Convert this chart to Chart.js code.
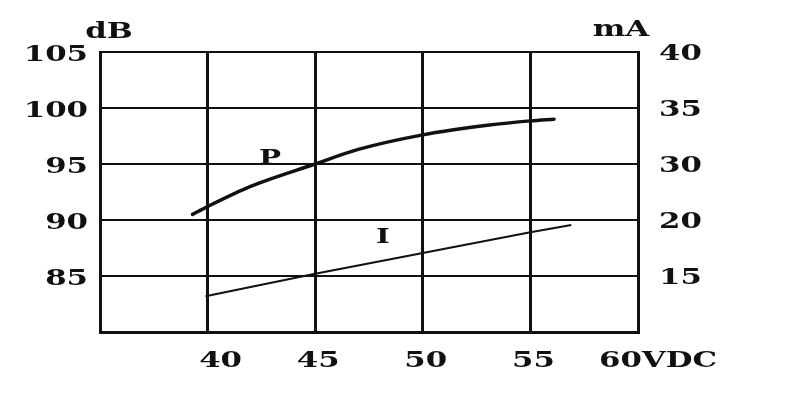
<!DOCTYPE html>
<html>
<head>
<meta charset="utf-8">
<script src="https://cdn.jsdelivr.net/npm/chart.js@4"></script>
<style>
  html,body{margin:0;padding:0;background:#fff;}
  #wrap{width:800px;height:417px;position:relative;}
</style>
</head>
<body>
<div id="wrap"><canvas id="chartPI"></canvas></div>
<script>
// data: P (dB, sumbu kiri) dan I (mA, sumbu kanan) vs tegangan VDC
const P_VOLT = [39.3, 40, 42, 45, 47, 50, 53, 55, 56.1];
const P_DB   = [90.5, 91.2, 93.0, 95.0, 96.3, 97.6, 98.45, 98.85, 99.0];
const I_VOLT = [39.9, 45, 50, 55, 56.9];
const I_MA   = [13.2, 15.2, 17.05, 18.9, 19.55];

const X_TICKS = [40, 45, 50, 55, 60];
const X_TICK_LABELS = ['40', '45', '50', '55', '60VDC'];
const DB_TICKS = [85, 90, 95, 100, 105];
const MA_TICKS = [15, 20, 25, 30, 35];
const MA_TICK_LABELS = ['15', '20', '30', '35', '40']; // label asli di gambar memang loncat 20 -> 30

const INK = '#111';
const FONT = 'DejaVu Serif';
const SX = 1.4; // huruf di gambar asli melebar, jadi teks di-stretch horizontal

function stretchText(ctx, text, x, y, align, font){
  ctx.save();
  ctx.font = font || ('bold 22px "' + FONT + '"');
  ctx.fillStyle = INK;
  ctx.textBaseline = 'middle';
  ctx.textAlign = align;
  ctx.translate(x, y);
  ctx.scale(SX, 1);
  ctx.fillText(text, 0, 0);
  ctx.restore();
}

// semua label digambar manual supaya bisa di-stretch & geser seperti aslinya
const labelPlugin = {
  id: 'labelPlugin',
  afterDraw(chart){
    const ctx = chart.ctx, ca = chart.chartArea;
    const sx = chart.scales.x, sy = chart.scales.y, sy2 = chart.scales.y2;
    DB_TICKS.forEach(v => stretchText(ctx, String(v), ca.left - 12, sy.getPixelForValue(v) + 3, 'right'));
    MA_TICKS.forEach((v, i) => stretchText(ctx, MA_TICK_LABELS[i], ca.right + 21, sy2.getPixelForValue(v) + 2, 'left'));
    const nudge = [13, 3, 3, 3];
    X_TICKS.forEach((v, i) => {
      const px = sx.getPixelForValue(v);
      if (i < nudge.length) stretchText(ctx, X_TICK_LABELS[i], px + nudge[i], 361, 'center');
      else stretchText(ctx, X_TICK_LABELS[i], px - 39, 361, 'left');
    });
    stretchText(ctx, 'dB', ca.left + 9, ca.top - 20, 'center');
    stretchText(ctx, 'mA', ca.right - 17, ca.top - 22, 'center');
    const bold = 'bold 21px "' + FONT + '"';
    stretchText(ctx, 'P', sx.getPixelForValue(42.9), sy.getPixelForValue(95.45), 'center', bold);
    stretchText(ctx, 'I', sx.getPixelForValue(48.15), sy.getPixelForValue(88.4), 'center', bold);
  }
};

const ctx = document.getElementById('chartPI').getContext('2d');
new Chart(ctx, {
  type: 'line',
  data: {
    datasets: [
      { label: 'P', yAxisID: 'y', data: P_VOLT.map((v, i) => ({ x: v, y: P_DB[i] })),
        borderColor: INK, borderWidth: 3.5, pointRadius: 0, tension: 0.4, cubicInterpolationMode: 'monotone', borderCapStyle: 'round' },
      { label: 'I', yAxisID: 'y2', data: I_VOLT.map((v, i) => ({ x: v, y: I_MA[i] })),
        borderColor: INK, borderWidth: 2, pointRadius: 0, tension: 0 }
    ]
  },
  options: {
    responsive: true, maintainAspectRatio: false, animation: false,
    layout: { padding: { top: 52, left: 0, right: 0, bottom: 0 } },
    plugins: { legend: { display: false }, tooltip: { enabled: false } },
    scales: {
      x: {
        type: 'linear', min: 35, max: 60,
        ticks: { display: false, stepSize: 5 },
        grid: { color: INK, lineWidth: 3, drawTicks: false },
        border: { color: INK, width: 3 },
        afterFit: s => { s.height = 85; }
      },
      y: {
        position: 'left', min: 80, max: 105,
        ticks: { display: false, stepSize: 5 },
        grid: { color: INK, lineWidth: 2, drawTicks: false },
        border: { color: INK, width: 3 },
        afterFit: s => { s.width = 100; }
      },
      y2: {
        position: 'right', min: 10, max: 35,
        ticks: { display: false, stepSize: 5 },
        grid: { display: false, drawTicks: false },
        border: { color: INK, width: 3 },
        afterFit: s => { s.width = 162; }
      }
    }
  },
  plugins: [labelPlugin]
});
</script>
</body>
</html>
